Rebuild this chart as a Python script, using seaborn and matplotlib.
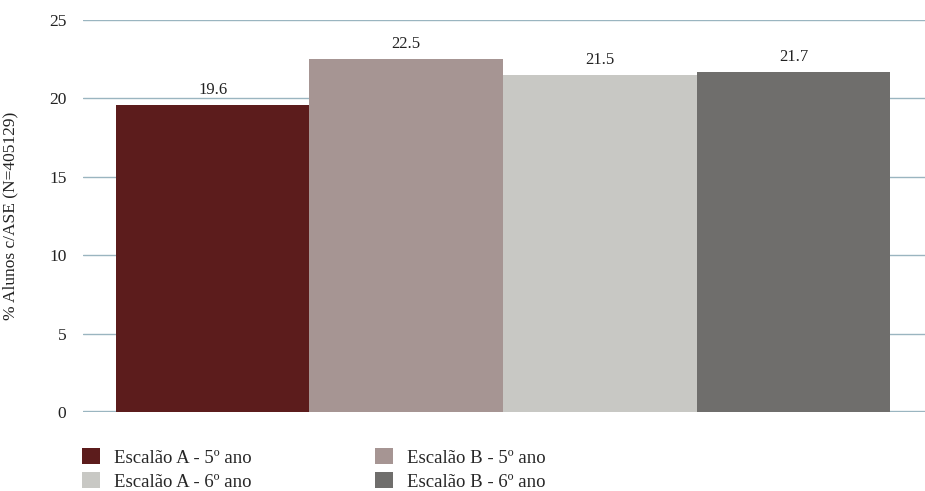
import numpy as np
import pandas as pd
import seaborn as sns
import matplotlib.pyplot as plt
from matplotlib.patches import Patch

# Data
categories = ["Escalão A - 5º ano", "Escalão B - 5º ano", "Escalão A - 6º ano", "Escalão B - 6º ano"]
values = [19.6, 22.5, 21.5, 21.7]
colors = ["#5c1c1c", "#a69593", "#c8c8c4", "#6f6e6c"]
yticks = [0, 5, 10, 15, 20, 25]

df = pd.DataFrame({"cat": categories, "val": values})

sns.set_style("white")
plt.rcParams["font.family"] = ["Liberation Serif", "DejaVu Serif"]

fig = plt.figure(figsize=(9.25, 4.91), dpi=100)
ax = fig.add_axes([83 / 925, 1 - 412 / 491, 1 - 83 / 925, 392 / 491])

sns.barplot(data=df, x="cat", y="val", hue="cat", palette=colors,
            width=1, dodge=False, legend=False, saturation=1,
            linewidth=0, ax=ax, zorder=2)

for p, v in zip(ax.patches, values):
    ax.text(p.get_x() + p.get_width() / 2, v + 0.45, f"{v:.1f}",
            ha="center", va="bottom", fontsize=12, color="#222222")

ax.set_ylim(0, 25)
ax.set_xlim(-0.67, 3.68)
ax.set_yticks(yticks)
ax.set_yticklabels([str(t) for t in yticks], fontsize=12.5, color="#222222")
ax.set_xticks([])
ax.set_xlabel("")
ax.set_ylabel("% Alunos c/ASE (N=405129)", fontsize=12.5, color="#222222", labelpad=22)
ax.tick_params(axis="y", length=0, pad=12)
ax.yaxis.grid(True, color="#9ab5c0", linewidth=1)
ax.axhline(0, color="#9ab5c0", linewidth=2.4, zorder=1)
ax.set_axisbelow(True)
for s in ax.spines.values():
    s.set_visible(False)

handles = [Patch(facecolor=colors[i], edgecolor="none") for i in [0, 2, 1, 3]]
labels = [categories[i] for i in [0, 2, 1, 3]]
fig.legend(handles, labels, ncol=2, loc="upper left",
           bbox_to_anchor=(82 / 925, 1 - 448 / 491), frameon=False,
           fontsize=13.5, handlelength=0.95, handleheight=0.95,
           handletextpad=0.75, columnspacing=6.6, labelspacing=0.3,
           borderaxespad=0, borderpad=0)

fig.savefig("out.png", dpi=100)
